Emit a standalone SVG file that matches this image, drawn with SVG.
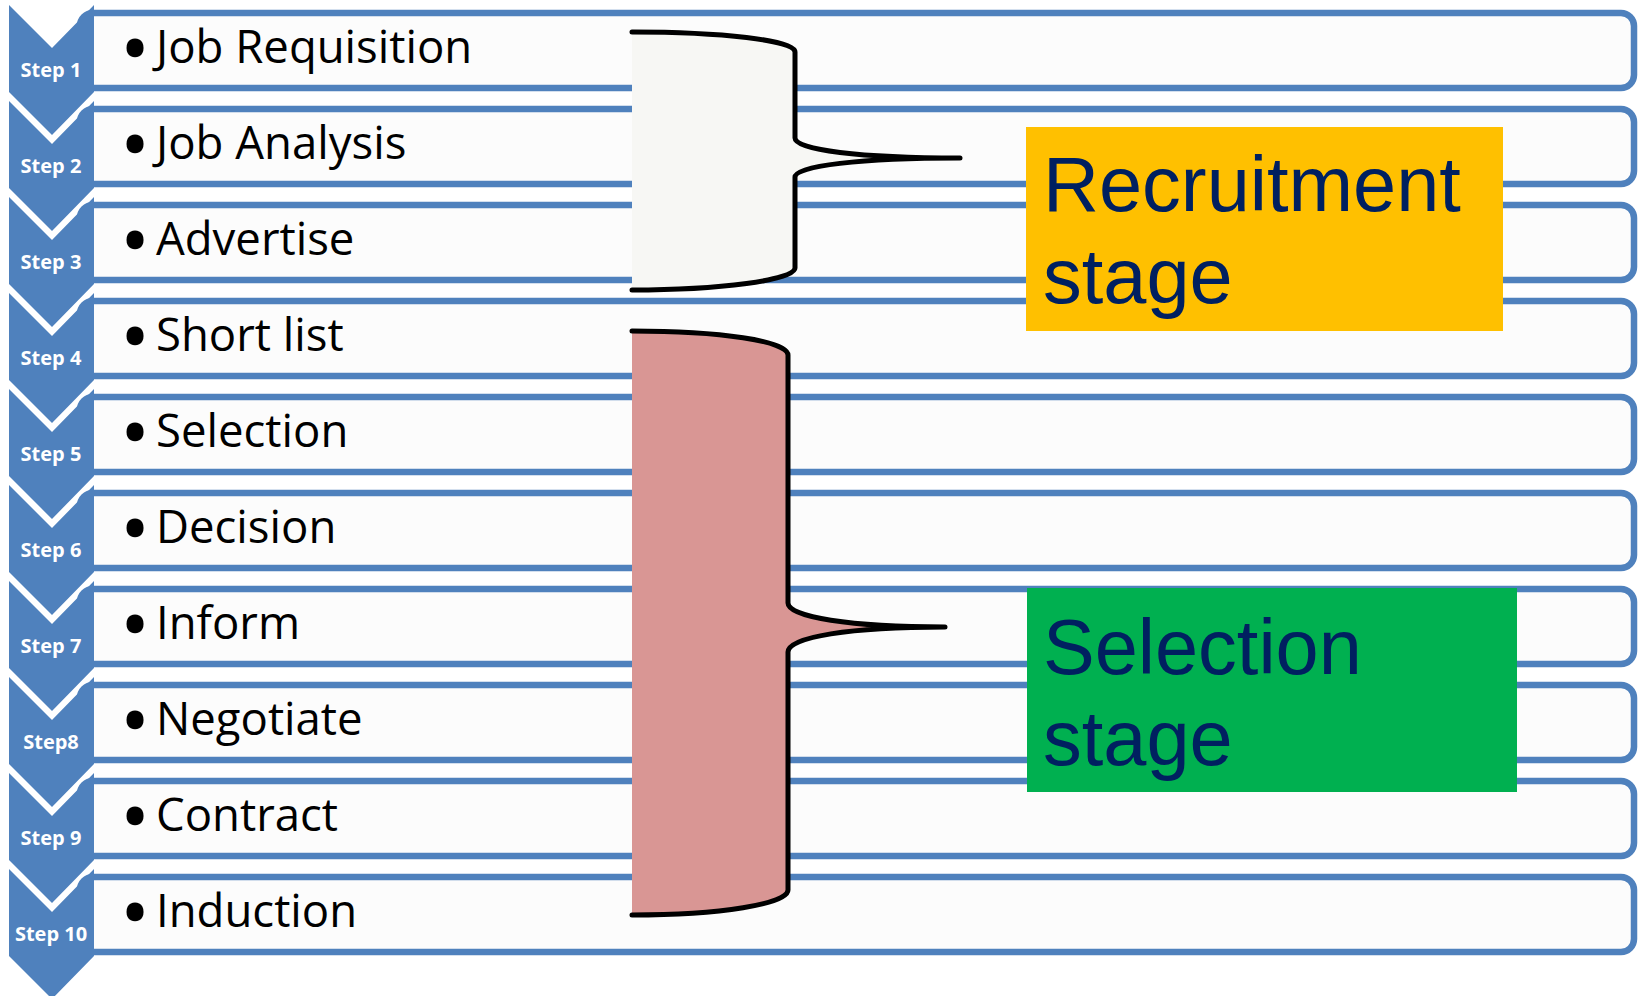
<svg xmlns="http://www.w3.org/2000/svg" width="1638" height="996" viewBox="0 0 1638 996">
<style>
.bar{fill:#FCFCFC;stroke:#4F81BD;stroke-width:6.5}
.chev{fill:#4F81BD}
.step{font-family:"Open Sans",sans-serif;font-weight:700;font-size:20px;fill:#FFFFFF;text-anchor:middle}
.item{font-family:"Open Sans",sans-serif;font-size:45.5px;fill:#000000}
.bul{font-family:"Open Sans",sans-serif;font-size:60px;fill:#000000;stroke:#000000;stroke-width:4.5;text-anchor:middle}
.brace{stroke:#000000;stroke-width:5;stroke-linejoin:round;stroke-linecap:round}
.stage{font-family:"Liberation Sans",Arial,sans-serif;font-size:77.5px;fill:#002060}
</style>
<rect width="1638" height="996" fill="#FFFFFF"/>
<g id="rows">
<g id="row1"><rect class="bar" x="80" y="13" width="1554" height="75" rx="13"/><path class="chev" d="M9,5 L52,48 L94,5 L94,92 L52,135 L9,92 Z"/><text class="step" x="51" y="77">Step 1</text><text class="bul" x="135" y="70">•</text><text class="item" x="156" y="63">Job Requisition</text></g>
<g id="row2"><rect class="bar" x="80" y="109" width="1554" height="75" rx="13"/><path class="chev" d="M9,101 L52,144 L94,101 L94,188 L52,231 L9,188 Z"/><text class="step" x="51" y="173">Step 2</text><text class="bul" x="135" y="166">•</text><text class="item" x="156" y="159">Job Analysis</text></g>
<g id="row3"><rect class="bar" x="80" y="205" width="1554" height="75" rx="13"/><path class="chev" d="M9,197 L52,240 L94,197 L94,284 L52,327 L9,284 Z"/><text class="step" x="51" y="269">Step 3</text><text class="bul" x="135" y="262">•</text><text class="item" x="156" y="255">Advertise</text></g>
<g id="row4"><rect class="bar" x="80" y="301" width="1554" height="75" rx="13"/><path class="chev" d="M9,293 L52,336 L94,293 L94,380 L52,423 L9,380 Z"/><text class="step" x="51" y="365">Step 4</text><text class="bul" x="135" y="358">•</text><text class="item" x="156" y="351">Short list</text></g>
<g id="row5"><rect class="bar" x="80" y="397" width="1554" height="75" rx="13"/><path class="chev" d="M9,389 L52,432 L94,389 L94,476 L52,519 L9,476 Z"/><text class="step" x="51" y="461">Step 5</text><text class="bul" x="135" y="454">•</text><text class="item" x="156" y="447">Selection</text></g>
<g id="row6"><rect class="bar" x="80" y="493" width="1554" height="75" rx="13"/><path class="chev" d="M9,485 L52,528 L94,485 L94,572 L52,615 L9,572 Z"/><text class="step" x="51" y="557">Step 6</text><text class="bul" x="135" y="550">•</text><text class="item" x="156" y="543">Decision</text></g>
<g id="row7"><rect class="bar" x="80" y="589" width="1554" height="75" rx="13"/><path class="chev" d="M9,581 L52,624 L94,581 L94,668 L52,711 L9,668 Z"/><text class="step" x="51" y="653">Step 7</text><text class="bul" x="135" y="646">•</text><text class="item" x="156" y="639">Inform</text></g>
<g id="row8"><rect class="bar" x="80" y="685" width="1554" height="75" rx="13"/><path class="chev" d="M9,677 L52,720 L94,677 L94,764 L52,807 L9,764 Z"/><text class="step" x="51" y="749">Step8</text><text class="bul" x="135" y="742">•</text><text class="item" x="156" y="735">Negotiate</text></g>
<g id="row9"><rect class="bar" x="80" y="781" width="1554" height="75" rx="13"/><path class="chev" d="M9,773 L52,816 L94,773 L94,860 L52,903 L9,860 Z"/><text class="step" x="51" y="845">Step 9</text><text class="bul" x="135" y="838">•</text><text class="item" x="156" y="831">Contract</text></g>
<g id="row10"><rect class="bar" x="80" y="877" width="1554" height="75" rx="13"/><path class="chev" d="M9,869 L52,912 L94,869 L94,956 L52,999 L9,956 Z"/><text class="step" x="51" y="941">Step 10</text><text class="bul" x="135" y="934">•</text><text class="item" x="156" y="927">Induction</text></g>
</g>
<g id="connectors">
<path class="brace" fill="#F7F7F4" d="M632,32 C720,32 795,40 795,52 V138 C795,150 860,158 960,158 C860,158 795,166 795,177 V268 C795,280 720,290 632,290"/>
<path class="brace" fill="#D99694" d="M632,331 C720,331 788,341 788,355 V603 C788,617 850,627 945,627 C850,627 788,637 788,652 V890 C788,904 720,915 632,915"/>
</g>
<g id="recruitment-stage">
<rect x="1026" y="127" width="477" height="204" fill="#FFC000"/>
<text class="stage" x="1043" y="211">Recruitment</text>
<text class="stage" x="1043" y="303">stage</text>
</g>
<g id="selection-stage">
<rect x="1027" y="588" width="490" height="204" fill="#00B050"/>
<text class="stage" x="1043" y="674">Selection</text>
<text class="stage" x="1043" y="765">stage</text>
</g>
</svg>
